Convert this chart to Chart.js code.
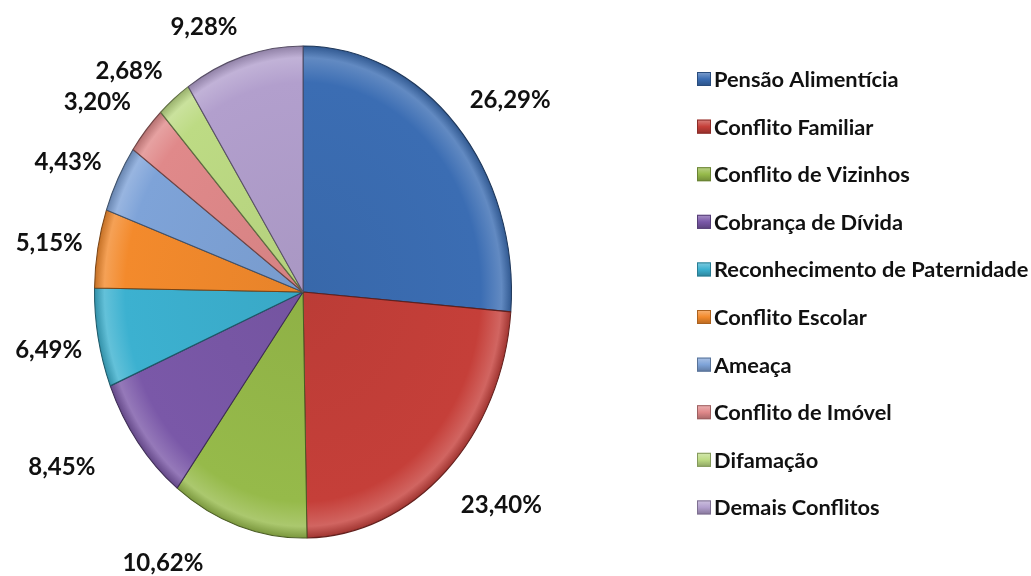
<!DOCTYPE html>
<html lang="pt-BR">
<head>
    <meta charset="UTF-8">
    <title>Tipos de Conflito</title>
    <style>
        body {
            margin: 0;
            background: #ffffff;
        }
        .chart-container {
            position: relative;
            width: 1031px;
            height: 576px;
        }
    </style>
    <script src="https://cdn.jsdelivr.net/npm/chart.js"></script>
</head>
<body>
    <div class="chart-container">
        <canvas id="conflitosChart" width="1031" height="576"></canvas>
    </div>

    <script>
    const categorias = [
        "Pensão Alimentícia",
        "Conflito Familiar",
        "Conflito de Vizinhos",
        "Cobrança de Dívida",
        "Reconhecimento de Paternidade",
        "Conflito Escolar",
        "Ameaça",
        "Conflito de Imóvel",
        "Difamação",
        "Demais Conflitos"
    ];
    const percentuais = [26.29, 23.40, 10.62, 8.45, 6.49, 5.15, 4.43, 3.20, 2.68, 9.28];
    const cores = [
        "#3b6db3", "#c53f39", "#96ba4a", "#7a58a8", "#3cb1d0",
        "#f38a2c", "#7ea3d8", "#e0898a", "#bddb84", "#b29fcd"
    ];

    // mistura uma cor hex com branco (t > 0) ou preto (t < 0)
    function misturar(hex, t) {
        const n = parseInt(hex.slice(1), 16);
        let r = n >> 16, g = (n >> 8) & 255, b = n & 255;
        const alvo = t > 0 ? 255 : 0, k = Math.abs(t);
        r = Math.round(r + (alvo - r) * k);
        g = Math.round(g + (alvo - g) * k);
        b = Math.round(b + (alvo - b) * k);
        return `rgb(${r}, ${g}, ${b})`;
    }

    function formatar(v) {
        return v.toFixed(2).replace(".", ",") + "%";
    }

    const FONTE = "Lato, 'Open Sans', sans-serif";
    const ESCALA_Y = 1.18;

    // estica a pizza verticalmente (elipse, como no original)
    const elipse = {
        id: "elipse",
        beforeDatasetsDraw(chart) {
            const arc = chart.getDatasetMeta(0).data[0];
            const ctx = chart.ctx;
            ctx.save();
            ctx.translate(arc.x, arc.y);
            ctx.scale(1, ESCALA_Y);
            ctx.translate(-arc.x, -arc.y);
        },
        afterDatasetsDraw(chart) {
            chart.ctx.restore();
        }
    };

    // rótulos de porcentagem fora das fatias
    const ajustes = [[5, 0], [10, 7], [-55, 2], [-29, 2], [9, 5], [10, 1], [3, 1], [-4, -3], [-8, 2], [-22, 6]];
    const rotulos = {
        id: "rotulos",
        afterDraw(chart) {
            const ctx = chart.ctx;
            const arcs = chart.getDatasetMeta(0).data;
            ctx.save();
            ctx.font = "bold 24px " + FONTE;
            ctx.fillStyle = "#111";
            ctx.textAlign = "center";
            ctx.textBaseline = "middle";
            arcs.forEach((arc, i) => {
                const meio = (arc.startAngle + arc.endAngle) / 2;
                const c = Math.cos(meio), s = Math.sin(meio);
                const r = arc.outerRadius;
                const texto = formatar(percentuais[i]);
                const w = ctx.measureText(texto).width;
                const d = 26;
                const x = arc.x + r * c + d * c + c * w / 2 + ajustes[i][0];
                const y = arc.y + r * ESCALA_Y * s + d * s + s * 11 + ajustes[i][1];
                ctx.fillText(texto, x, y);
            });
            ctx.restore();
        }
    };

    // legenda à direita
    const legenda = {
        id: "legenda",
        afterDraw(chart) {
            const ctx = chart.ctx;
            ctx.save();
            ctx.font = "bold 21.8px " + FONTE;
            ctx.textBaseline = "middle";
            categorias.forEach((nome, i) => {
                const y = 79 + i * 47.6;
                const g = ctx.createLinearGradient(0, y - 7, 0, y + 7);
                g.addColorStop(0, misturar(cores[i], 0.35));
                g.addColorStop(0.5, cores[i]);
                g.addColorStop(1, misturar(cores[i], -0.25));
                ctx.fillStyle = g;
                ctx.fillRect(697, y - 7, 14, 14);
                ctx.strokeStyle = misturar(cores[i], -0.3);
                ctx.lineWidth = 1;
                ctx.strokeRect(697.5, y - 6.5, 13, 13);
                ctx.fillStyle = "#111";
                ctx.fillText(nome, 714, y + 1);
            });
            ctx.restore();
        }
    };

    new Chart(document.getElementById("conflitosChart"), {
        type: "pie",
        data: {
            labels: categorias,
            datasets: [{
                data: percentuais,
                backgroundColor(context) {
                    const base = cores[context.dataIndex];
                    const area = context.chart.chartArea;
                    if (!area) return base;
                    const cx = (area.left + area.right) / 2;
                    const cy = (area.top + area.bottom) / 2;
                    const r = Math.min(area.width, area.height) / 2;
                    const g = context.chart.ctx.createRadialGradient(cx, cy, 0, cx, cy, r);
                    g.addColorStop(0, misturar(base, -0.05));
                    g.addColorStop(0.85, base);
                    g.addColorStop(0.95, misturar(base, 0.2));
                    g.addColorStop(1, misturar(base, -0.2));
                    return g;
                },
                borderColor: cores.map(c => misturar(c, -0.5)),
                borderWidth: 1,
                hoverOffset: 0,
                clip: false
            }]
        },
        options: {
            responsive: false,
            animation: false,
            layout: {
                padding: { left: 94, right: 519, top: 83, bottom: 75 }
            },
            plugins: {
                legend: { display: false },
                tooltip: { enabled: false }
            }
        },
        plugins: [elipse, rotulos, legenda]
    });
    </script>
</body>
</html>
